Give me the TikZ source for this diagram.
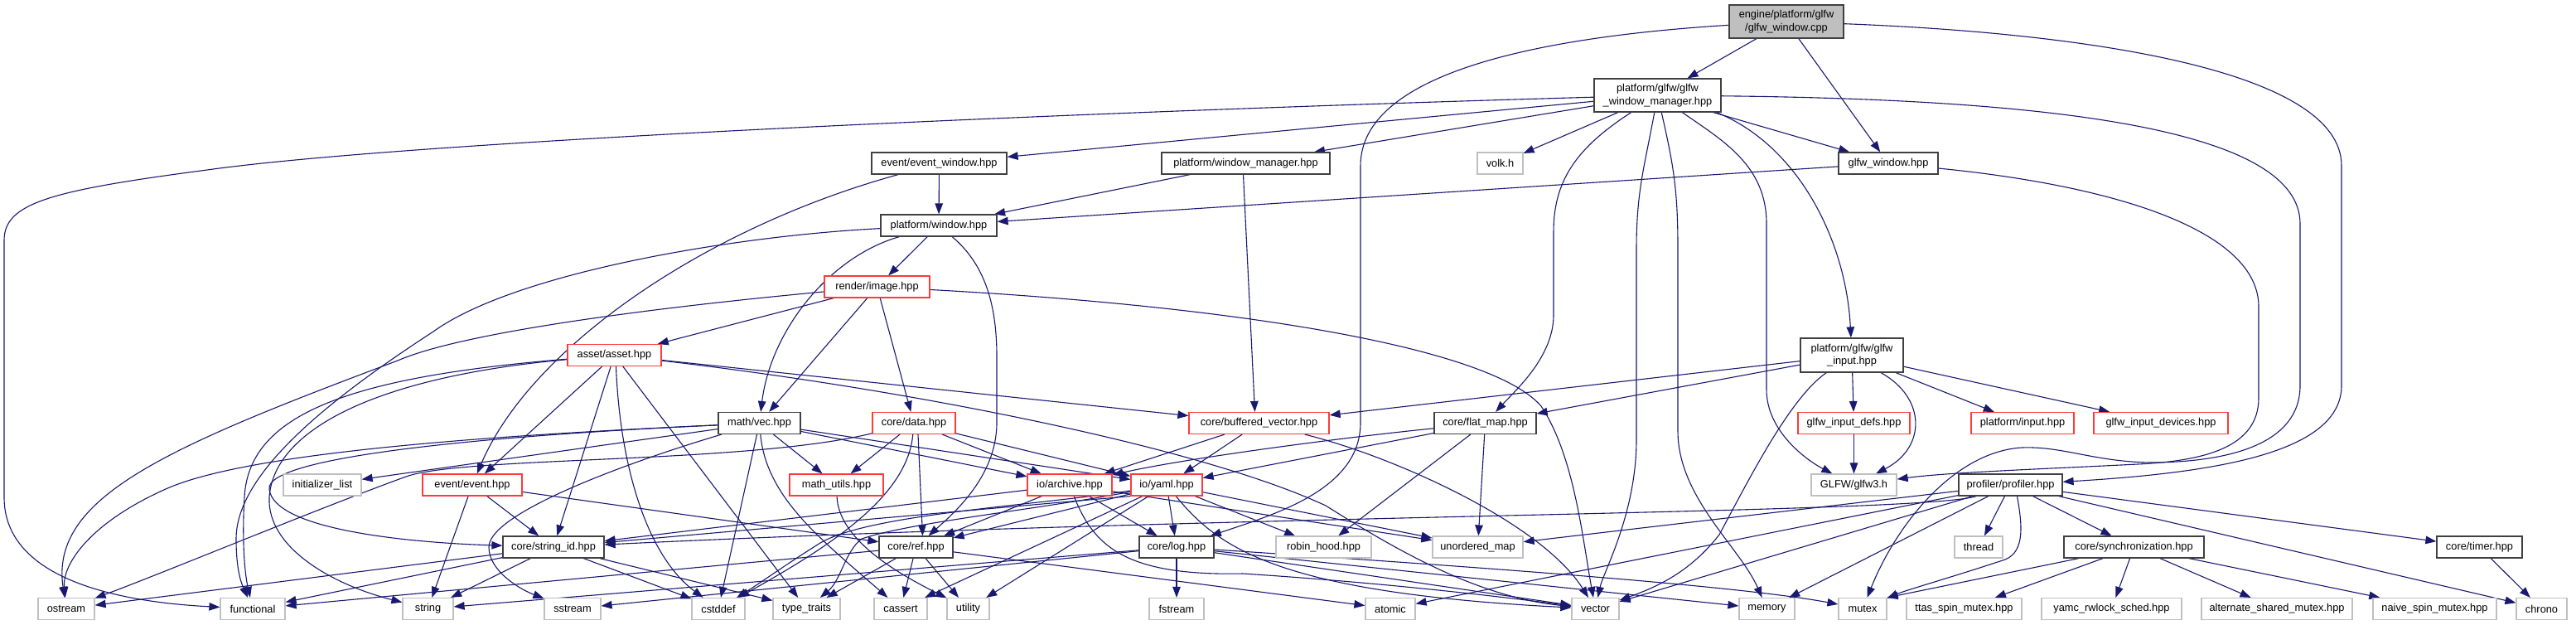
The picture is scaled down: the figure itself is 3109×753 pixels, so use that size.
\documentclass[tikz,border=0pt]{standalone}
\usepackage{fontspec}
\setmainfont{Liberation Sans}
\usetikzlibrary{arrows.meta}
\definecolor{edgec}{HTML}{191970}
\definecolor{nodeb}{HTML}{404040}
\definecolor{redb}{HTML}{FF3A3A}
\definecolor{grayb}{HTML}{BFBFBF}
\definecolor{rootf}{HTML}{BFBFBF}
\newcommand\nodefont{\fontsize{12.8}{15.5}\selectfont}
\pgfdeclarelayer{bg}
\pgfsetlayers{bg,main}
\tikzset{
  nd/.style={draw=nodeb, line width=1.2pt, fill=white, inner sep=0pt, minimum height=26pt, font=\nodefont, align=center, text=black},
  rd/.style={nd, draw=redb},
  gr/.style={nd, draw=grayb},
  e/.style={draw=edgec, line width=1.1pt, -{Triangle[length=13pt,width=9.5pt]}},
}
\begin{document}
\begin{tikzpicture}[x=1pt,y=-1pt]
\useasboundingbox (0,0) rectangle (3109,753);
% row 0-1
\node[nd, fill=rootf, minimum width=138pt, minimum height=40pt] (root) at (2156,26) {engine/platform/glfw\\/glfw\_window.cpp};
\node[nd, minimum width=153pt, minimum height=40pt] (manager) at (2000.5,115) {platform/glfw/glfw\\\_window\_manager.hpp};
% row 2
\node[nd, minimum width=163pt] (evw) at (1133.5,197) {event/event\_window.hpp};
\node[nd, minimum width=203pt] (wm) at (1503.5,197) {platform/window\_manager.hpp};
\node[gr, minimum width=55pt] (volk) at (1810.5,197) {volk.h};
\node[nd, minimum width=120pt] (gwh) at (2279,197) {glfw\_window.hpp};
% row 3-4
\node[nd, minimum width=140pt] (win) at (1133,272) {platform/window.hpp};
\node[rd, minimum width=127pt] (img) at (1058.5,346) {render/image.hpp};
\node[nd, minimum width=124pt, minimum height=41pt] (gin) at (2235,428.5) {platform/glfw/glfw\\\_input.hpp};
\node[rd, minimum width=113pt] (asset) at (741.5,428.5) {asset/asset.hpp};
% row 6
\node[nd, minimum width=99pt] (vec) at (916.5,510.5) {math/vec.hpp};
\node[rd, minimum width=100pt] (data) at (1103,510.5) {core/data.hpp};
\node[rd, minimum width=169pt] (bvec) at (1519.5,510.5) {core/buffered\_vector.hpp};
\node[nd, minimum width=123pt] (fmap) at (1792.5,510.5) {core/flat\_map.hpp};
\node[rd, minimum width=135pt] (defs) at (2237.5,510.5) {glfw\_input\_defs.hpp};
\node[rd, minimum width=124pt] (pin) at (2441,510.5) {platform/input.hpp};
\node[rd, minimum width=162pt] (dev) at (2608,510.5) {glfw\_input\_devices.hpp};
% row 7
\node[gr, minimum width=94pt] (init) at (389,585) {initializer\_list};
\node[rd, minimum width=120pt] (event) at (570,585) {event/event.hpp};
\node[rd, minimum width=113pt] (mu) at (1009.5,585) {math\_utils.hpp};
\node[rd, minimum width=102pt] (arch) at (1291,585) {io/archive.hpp};
\node[rd, minimum width=86pt] (yaml) at (1408,585) {io/yaml.hpp};
\node[gr, minimum width=103pt] (glfw3) at (2237.5,585) {GLFW/glfw3.h};
\node[nd, minimum width=125pt] (prof) at (2426.5,585) {profiler/profiler.hpp};
% row 8
\node[nd, minimum width=122pt] (sid) at (668,660) {core/string\_id.hpp};
\node[nd, minimum width=89pt] (ref) at (1105.5,660) {core/ref.hpp};
\node[nd, minimum width=90pt] (log) at (1420,660) {core/log.hpp};
\node[gr, minimum width=115pt] (robin) at (1597.5,660) {robin\_hood.hpp};
\node[gr, minimum width=109pt] (umap) at (1783.5,660) {unordered\_map};
\node[gr, minimum width=58pt] (thread) at (2388,660) {thread};
\node[nd, minimum width=169pt] (sync) at (2575.5,660) {core/synchronization.hpp};
\node[nd, minimum width=103pt] (timer) at (2992.5,660) {core/timer.hpp};
% row 9
\node[gr, minimum width=68pt] (ostream) at (80,734.5) {ostream};
\node[gr, minimum width=78pt] (functional) at (305,734.5) {functional};
\node[gr, minimum width=61pt] (string) at (516.5,734.5) {string};
\node[gr, minimum width=68pt] (sstream) at (691,734.5) {sstream};
\node[gr, minimum width=64pt] (cstddef) at (867,734.5) {cstddef};
\node[gr, minimum width=81pt] (tt) at (973.5,734.5) {type\_traits};
\node[gr, minimum width=64pt] (cassert) at (1087,734.5) {cassert};
\node[gr, minimum width=51pt] (utility) at (1168.5,734.5) {utility};
\node[gr, minimum width=66pt] (fstream) at (1420,734.5) {fstream};
\node[gr, minimum width=60pt] (atomic) at (1678,734.5) {atomic};
\node[gr, minimum width=57pt] (vector) at (1925.5,734.5) {vector};
\node[gr, minimum width=67pt] (memory) at (2132.5,734.5) {memory};
\node[gr, minimum width=58pt] (mutex) at (2248,734.5) {mutex};
\node[gr, minimum width=139pt] (ttas) at (2370.5,734.5) {ttas\_spin\_mutex.hpp};
\node[gr, minimum width=169pt] (yamc) at (2548.5,734.5) {yamc\_rwlock\_sched.hpp};
\node[gr, minimum width=182pt] (alt) at (2748,734.5) {alternate\_shared\_mutex.hpp};
\node[gr, minimum width=149pt] (naive) at (2938.5,734.5) {naive\_spin\_mutex.hpp};
\node[gr, minimum width=61pt] (chrono) at (3067.5,734.5) {chrono};

\begin{pgfonlayer}{bg}
\fill[white] (0,0) rectangle (3109,753);
% root
\draw[e] (root) -- (manager);
\draw[e] (root) -- (gwh);
\draw[e] (root) .. controls (1850,45) and (1642,90) .. (1642,200) -- (1642,510) .. controls (1642,590) and (1540,620) .. (log);
\draw[e] (root) .. controls (2520,40) and (2826,85) .. (2826,200) -- (2826,465) .. controls (2826,545) and (2680,570) .. (prof);
% manager
\draw[e] (manager) .. controls (1300,135) and (500,170) .. (250,205) .. controls (60,230) and (5,245) .. (5,290) -- (5,600) .. controls (5,690) and (120,725) .. (functional);
\draw[e] (manager) -- (evw);
\draw[e] (manager) -- (wm);
\draw[e] (manager) -- (volk);
\draw[e] ([xshift=-10pt]manager.south east) -- (gwh);
\draw[e] ([xshift=-6pt]manager.south east) .. controls (2170,175) and (2228,290) .. (gin);
\draw[e] (manager) .. controls (1900,180) and (1875,220) .. (1875,280) -- (1875,380) .. controls (1875,430) and (1830,470) .. (fmap);
\draw[e] (manager) .. controls (1985,200) and (1975,230) .. (1975,300) -- (1975,530) .. controls (1975,620) and (1935,690) .. (vector);
\draw[e] (manager) .. controls (2020,200) and (2025,230) .. (2025,300) -- (2025,520) .. controls (2025,600) and (2100,660) .. (memory);
\draw[e] (manager) .. controls (2080,170) and (2132,200) .. (2132,270) -- (2132,470) .. controls (2132,520) and (2180,555) .. (glfw3);
\draw[e] (manager) .. controls (2500,120) and (2776,160) .. (2776,270) -- (2776,465) .. controls (2776,540) and (2680,557) .. (2600,558) .. controls (2530,558) and (2490,538) .. (2440,540) .. controls (2360,545) and (2290,630) .. (mutex);
% glfw_window.hpp
\draw[e] (gwh) -- (win);
\draw[e] (gwh) .. controls (2560,225) and (2726,280) .. (2726,370) -- (2726,480) .. controls (2726,540) and (2660,556) .. (2580,560) .. controls (2460,566) and (2350,570) .. (glfw3);
% event_window
\draw[e] (evw) -- (win);
\draw[e] (evw) .. controls (850,275) and (640,420) .. (event);
% window_manager
\draw[e] (wm) -- (win);
\draw[e] ([xshift=-3pt]wm.south) -- ([xshift=-5pt]bvec.north);
% window
\draw[e] (win) -- (img);
\draw[e] (win) .. controls (1000,310) and (930,400) .. (vec);
\draw[e] (win) .. controls (1190,320) and (1203,370) .. (1203,430) -- (1203,510) .. controls (1203,575) and (1150,620) .. (ref);
\draw[e] (win) .. controls (880,285) and (620,330) .. (523,400) .. controls (400,480) and (285,570) .. (285,650) .. controls (285,690) and (292,705) .. (functional);
% image
\draw[e] (img) -- (asset);
\draw[e] (img) -- (vec);
\draw[e] (img) -- (data);
\draw[e] (img) .. controls (1500,370) and (1800,420) .. (1860,490) .. controls (1900,550) and (1910,650) .. (vector);
\draw[e] (img) .. controls (800,370) and (560,400) .. (480,435) .. controls (200,540) and (60,600) .. (ostream);
% asset
\draw[e] (asset) -- (event);
\draw[e] (asset) -- (sid);
\draw[e] ([xshift=2pt]asset.south) .. controls (748,560) and (780,670) .. (cstddef);
\draw[e] (asset) -- (tt);
\draw[e] (asset) -- (bvec);
\draw[e] (asset) .. controls (1100,470) and (1450,540) .. (1600,610) .. controls (1680,660) and (1780,720) .. (vector);
\draw[e] (asset) .. controls (420,455) and (300,500) .. (295,600) .. controls (292,650) and (295,690) .. (functional);
\draw[e] (asset) .. controls (450,455) and (330,520) .. (325,600) .. controls (322,660) and (400,705) .. (string);
% glfw_input
\draw[e] (gin) -- (bvec);
\draw[e] (gin) -- (fmap);
\draw[e] (gin) -- (defs);
\draw[e] ([xshift=35pt]gin.south) .. controls (2325,480) and (2325,540) .. (glfw3);
\draw[e] (gin) -- (pin);
\draw[e] (gin) -- (dev);
\draw[e] (gin) .. controls (2160,480) and (2110,580) .. (2075,645) .. controls (2040,690) and (2000,708) .. (vector);
\draw[e] (defs) -- (glfw3);
% vec
\draw[e] (vec) -- (init);
\draw[e] (vec) .. controls (600,525) and (300,545) .. (200,590) .. controls (110,630) and (75,680) .. (ostream);
\draw[e] (vec) .. controls (600,525) and (320,550) .. (325,590) .. controls (330,640) and (500,655) .. (sid);
\draw[e] (vec) .. controls (750,560) and (590,620) .. (590,660) .. controls (590,690) and (630,712) .. (sstream);
\draw[e] (vec) -- (cstddef);
\draw[e] (vec) .. controls (925,600) and (990,650) .. (cassert);
\draw[e] (vec) -- (mu);
\draw[e] (vec) -- (arch);
\draw[e] (vec) -- (yaml);
% data
\draw[e] (data) -- (mu);
\draw[e] (data) -- (arch);
\draw[e] (data) -- (yaml);
\draw[e] ([xshift=5pt]data.south) -- ([xshift=8pt]ref.north);
\draw[e] (data) .. controls (1095,600) and (1000,660) .. (cstddef);
\draw[e] (data) .. controls (900,560) and (560,550) .. (490,575) .. controls (380,615) and (200,690) .. (ostream);
% buffered_vector
\draw[e] (bvec) -- (arch);
\draw[e] (bvec) -- (yaml);
\draw[e] (bvec) .. controls (1680,550) and (1860,630) .. (vector);
% flat_map
\draw[e] (fmap) -- (robin);
\draw[e] (fmap) -- (umap);
\draw[e] (fmap) -- (yaml);
\draw[e] (fmap) .. controls (1600,530) and (1420,555) .. (arch);
% event
\draw[e] (event) -- (sid);
\draw[e] (event) -- (string);
\draw[e] (event) -- (ref);
% math_utils
\draw[e] (mu) .. controls (1012,650) and (1080,690) .. (utility);
% archive
\draw[e] (arch) -- (ref);
\draw[e] (arch) -- (log);
\draw[e] (arch) -- (sid);
\draw[e] (arch) .. controls (1320,660) and (1360,695) .. (1500,692) .. controls (1700,705) and (1850,725) .. (vector);
\draw[e] (arch) -- (umap);
% yaml
\draw[e] (yaml) -- (ref);
\draw[e] (yaml) -- (log);
\draw[e] (yaml.south west) -- (sid);
\draw[e] (yaml) -- (cassert);
\draw[e] (yaml) -- (utility);
\draw[e] (yaml) -- (robin);
\draw[e] (yaml) -- (umap);
\draw[e] (yaml) .. controls (1470,660) and (1540,715) .. (vector);
\draw[e] (yaml) .. controls (1250,615) and (1100,630) .. (1040,650) .. controls (1020,665) and (1015,700) .. (tt);
\draw[e] (yaml) .. controls (1250,610) and (1050,620) .. (990,655) .. controls (950,680) and (915,705) .. (cstddef);
% string_id
\draw[e] (sid) -- (ostream);
\draw[e] (sid) -- (functional);
\draw[e] (sid) -- (string);
\draw[e] (sid) -- (cstddef);
\draw[e] (sid) -- (tt);
% ref
\draw[e] (ref) -- (cassert);
\draw[e] (ref) -- (utility);
\draw[e] (ref) -- (tt);
\draw[e] (ref) -- (atomic);
\draw[e] (ref) -- (functional);
% log
\draw[e] (log) -- (fstream);
\draw[e] (log) -- (string);
\draw[e] (log) -- (sstream);
\draw[e] (log) -- (vector);
\draw[e] (log) -- (memory);
\draw[e] (log) .. controls (1800,685) and (2100,707) .. (mutex);
% profiler
\draw[e] (prof) -- (thread);
\draw[e] (prof) -- (sync);
\draw[e] (prof) -- (timer);
\draw[e] (prof) -- (chrono);
\draw[e] (prof) -- (memory);
\draw[e] (prof) -- (vector);
\draw[e] (prof) -- (atomic);
\draw[e] (prof) -- (umap);
\draw[e] (prof) .. controls (2320,620) and (1500,620) .. (sid);
\draw[e] ([xshift=8pt]prof.south) .. controls (2440,630) and (2445,665) .. (2420,675) .. controls (2360,695) and (2300,712) .. (mutex);
% synchronization
\draw[e] (sync) -- (mutex.north east);
\draw[e] (sync) -- (ttas);
\draw[e] (sync) -- (yamc);
\draw[e] (sync) -- (alt);
\draw[e] (sync) -- (naive);
% timer
\draw[e] (timer) -- (chrono);
\end{pgfonlayer}
\end{tikzpicture}
\end{document}
